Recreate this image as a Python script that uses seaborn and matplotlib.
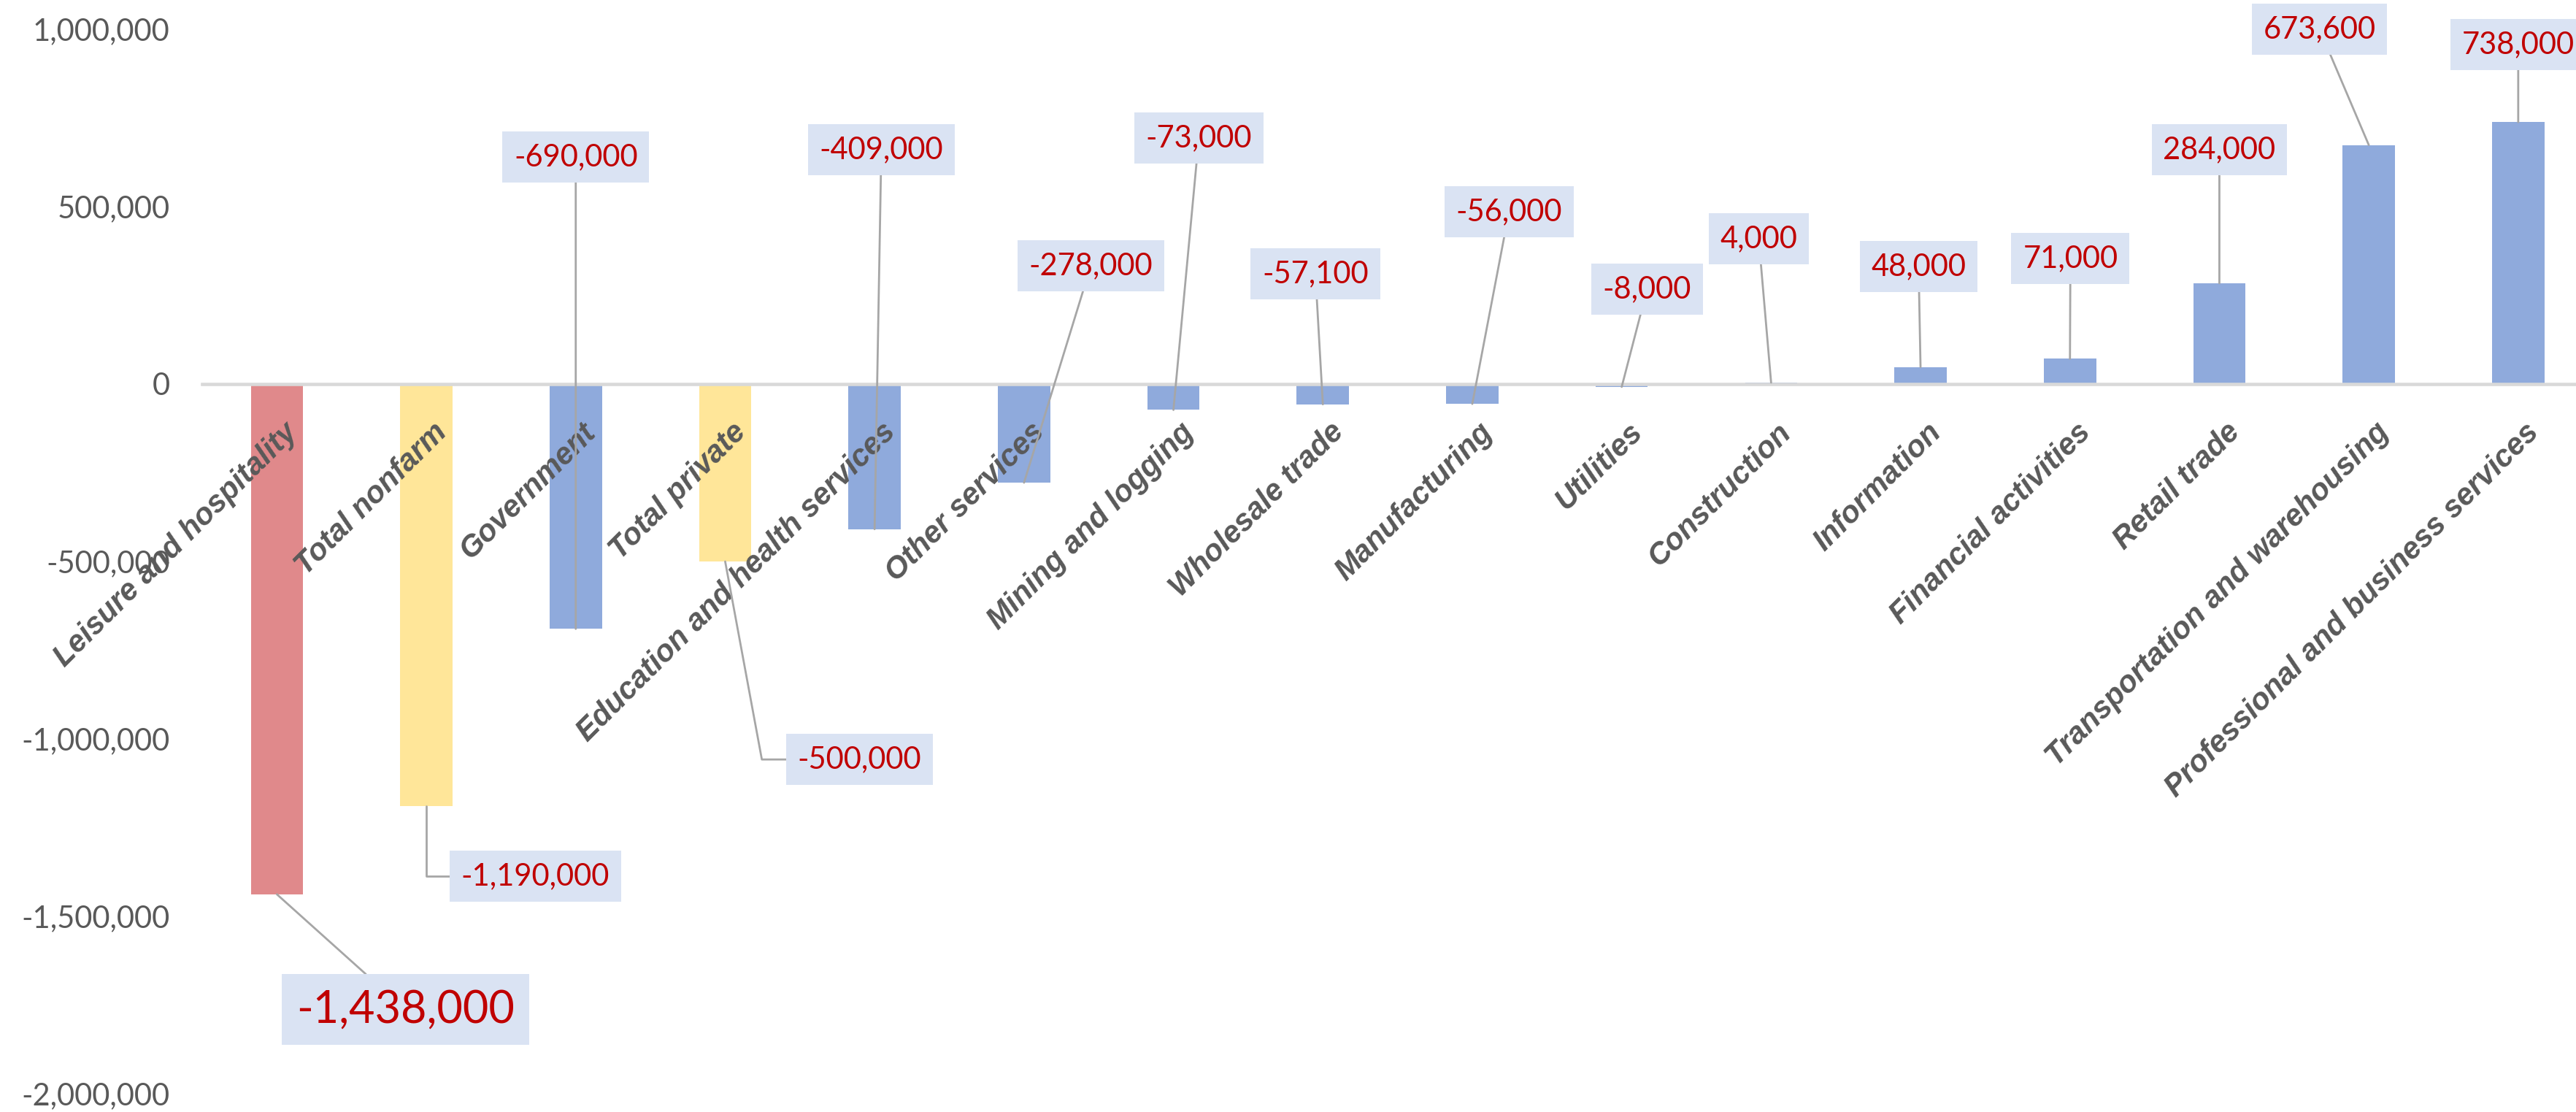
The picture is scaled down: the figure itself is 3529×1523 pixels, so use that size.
import matplotlib
matplotlib.use('Agg')
import matplotlib.pyplot as plt
import matplotlib.transforms as mtransforms
from matplotlib.ticker import FuncFormatter, MultipleLocator
import seaborn as sns
import pandas as pd

# Employment change by sector
categories = [
    "Leisure and hospitality", "Total nonfarm", "Government", "Total private",
    "Education and health services", "Other services", "Mining and logging",
    "Wholesale trade", "Manufacturing", "Utilities", "Construction",
    "Information", "Financial activities", "Retail trade",
    "Transportation and warehousing", "Professional and business services",
]
values = [
    -1438000, -1190000, -690000, -500000, -409000, -278000, -73000, -57100,
    -56000, -8000, 4000, 48000, 71000, 284000, 673600, 738000,
]
groups = ["highlight", "total", "sector", "total"] + ["sector"] * 12

# where each callout box sits (x in category units, y in data units)
label_x = [0.86, 1.73, 2.0, 3.90, 4.045, 5.447, 6.17, 6.95,
           8.246, 9.17, 9.917, 10.987, 12.003, 13.0, 13.67, 15.0]
label_y = [-1763000, -1387000, 640000, -1058000, 660500, 333000, 693000, 311000,
           485600, 267500, 409500, 331000, 354000, 660500, 1000000, 956800]

colors = {"highlight": "#E0898B", "total": "#FFE699", "sector": "#8FAADC"}

df = pd.DataFrame({"sector": categories, "change": values, "group": groups})

sns.set_style("white")
plt.rcParams['font.family'] = ['Lato', 'DejaVu Sans']

W, H = 3529, 1523
fig = plt.figure(figsize=(W / 100, H / 100), dpi=100)
ax = fig.add_axes([277 / W, 25 / H, 16 * 204.7 / W, 1458 / H])

sns.barplot(data=df, x="sector", y="change", hue="group", palette=colors,
            width=0.35, saturation=1, linewidth=0, legend=False, ax=ax,
            order=categories, dodge=False)

ax.set_axisbelow(False)
ax.set_xlim(-0.5, len(categories) - 0.5)
ax.set_ylim(-2000000, 1000000)
ax.yaxis.set_major_locator(MultipleLocator(500000))
ax.yaxis.set_major_formatter(FuncFormatter(lambda v, p: f"{int(v):,}"))
ax.set_xlabel("")
ax.set_ylabel("")

for s in ["top", "right", "left"]:
    ax.spines[s].set_visible(False)
ax.spines["bottom"].set_position(("data", 0))
ax.spines["bottom"].set_color("#D9D9D9")
ax.spines["bottom"].set_linewidth(3.3)
ax.spines["bottom"].set_zorder(2)

ax.tick_params(axis="y", length=0, pad=32, labelsize=30, labelcolor="#595959")
ax.tick_params(axis="x", length=0, pad=33, labelcolor="#595959")
ax.set_xticks(range(len(categories)))
ax.set_xticklabels(categories, rotation=45, ha="right", va="top",
                   rotation_mode="anchor", fontsize=30, fontweight="bold",
                   fontstyle="italic", family="Liberation Sans")
shift = mtransforms.ScaledTranslation(8 / 100, 0, fig.dpi_scale_trans)
for lbl in ax.get_xticklabels():
    lbl.set_transform(lbl.get_transform() + shift)

# callout labels with leader lines
for i, v in enumerate(values):
    big = i == 0
    conn = "arc3"
    if i == 1:
        conn = "angle,angleA=0,angleB=90,rad=0"
    elif i == 3:
        conn = "angle,angleA=0,angleB=100.5,rad=0"
    ax.annotate(f"{v:,}", xy=(i, v), xytext=(label_x[i], label_y[i]),
                textcoords="data", ha="center", va="center",
                fontsize=44 if big else 30, color="#C00000",
                bbox=dict(boxstyle="square,pad=0.33" if big else "square,pad=0.38",
                          fc="#DAE3F3", ec="none"),
                arrowprops=dict(arrowstyle="-", color="#A6A6A6", lw=2,
                                shrinkA=0, shrinkB=0, connectionstyle=conn),
                annotation_clip=False, zorder=5)

plt.savefig("out.png", dpi=100)
plt.close()
